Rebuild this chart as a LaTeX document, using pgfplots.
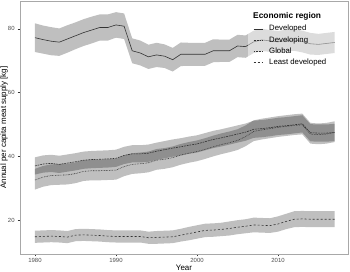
\documentclass[border=0pt]{standalone}
\usepackage{fontspec}
\setmainfont{Liberation Sans}
\usepackage{pgfplots}
\usepackage{pgfplotstable}
\pgfplotsset{compat=1.18}
\usepgfplotslibrary{fillbetween}
\definecolor{axgray}{HTML}{A8A8A8}
\definecolor{ticklab}{HTML}{4D4D4D}
\definecolor{linecol}{HTML}{333333}

% year, Developed, Developing, Global, Least developed, and ribbon bounds
\pgfplotstableread{
yr    D     Dlo   Dhi   Dg    Dglo  Dghi  G     Glo   Ghi   L     Llo   Lhi
1980  77.2  72.7  81.7  32.6  29.6  36.1  37.0  34.3  39.7  14.8  12.9  16.7
1981  76.6  72.2  81.0  33.5  30.5  37.0  37.6  34.9  40.3  14.9  13.0  16.8
1982  76.1  71.7  80.5  34.0  31.0  37.5  37.8  35.1  40.5  15.0  13.1  16.9
1983  75.8  71.5  80.1  34.1  31.1  37.6  37.5  34.8  40.2  14.9  13.0  16.8
1984  76.8  72.5  81.1  34.2  31.2  37.7  37.9  35.2  40.6  14.7  12.8  16.6
1985  77.8  73.6  82.0  34.6  31.6  38.1  38.3  35.6  41.0  15.3  13.4  17.2
1986  78.8  74.6  83.0  35.3  32.3  38.8  38.8  36.1  41.5  15.4  13.5  17.3
1987  79.6  75.4  83.8  35.5  32.5  39.0  39.0  36.3  41.7  15.3  13.4  17.2
1988  80.4  76.3  84.5  35.5  32.5  39.0  39.1  36.4  41.8  15.2  13.3  17.1
1989  80.4  76.3  84.5  35.6  32.6  39.1  39.2  36.5  41.9  15.0  13.1  16.9
1990  81.2  77.2  85.2  35.7  32.7  39.2  39.4  36.7  42.1  14.9  13.0  16.8
1991  80.8  76.8  84.8  36.8  33.8  40.3  40.3  37.6  43.0  14.9  13.0  16.8
1992  73.1  69.2  77.0  37.5  34.5  41.0  40.8  38.1  43.5  14.9  13.0  16.8
1993  72.4  68.5  76.3  37.7  34.7  41.2  40.8  38.1  43.5  14.9  13.0  16.8
1994  71.2  67.4  75.0  38.0  35.0  41.5  41.0  38.3  43.7  14.5  12.6  16.4
1995  71.8  68.0  75.6  38.8  35.8  42.3  41.6  38.9  44.3  14.6  12.6  16.6
1996  71.4  67.7  75.1  39.1  36.1  42.6  42.1  39.4  44.8  14.7  12.7  16.7
1997  70.3  66.6  74.0  39.6  36.6  43.1  42.6  39.9  45.3  14.8  12.8  16.8
1998  72.0  68.3  75.7  40.4  37.4  43.9  43.0  40.3  45.7  15.3  13.3  17.3
1999  72.0  68.4  75.6  41.0  38.0  44.5  43.5  40.8  46.2  15.8  13.7  17.9
2000  72.0  68.4  75.6  41.5  38.5  45.0  43.9  41.2  46.6  16.3  14.2  18.4
2001  72.0  68.4  75.6  42.2  39.2  45.7  44.6  41.9  47.3  16.8  14.7  18.9
2002  73.1  69.5  76.7  43.0  40.0  46.5  45.3  42.6  48.0  16.9  14.8  19.0
2003  73.1  69.6  76.6  43.7  40.7  47.2  45.8  43.1  48.5  17.1  15.0  19.2
2004  73.1  69.6  76.6  44.3  41.3  47.8  46.4  43.7  49.1  17.4  15.2  19.6
2005  74.6  71.1  78.1  45.0  42.0  48.5  47.0  44.3  49.7  17.8  15.6  20.0
2006  74.4  70.9  77.9  46.2  43.2  49.7  47.6  44.9  50.3  18.1  15.9  20.3
2007  75.9  72.4  79.4  47.8  44.8  51.3  48.5  45.8  51.2  18.5  16.2  20.8
2008  76.5  73.0  80.0  48.3  45.3  51.8  48.7  46.0  51.4  18.4  16.1  20.7
2009  76.2  72.8  79.6  48.7  45.7  52.2  49.0  46.3  51.7  18.3  16.0  20.6
2010  75.9  72.5  79.3  49.1  46.1  52.6  49.4  46.7  52.1  18.8  16.4  21.2
2011  76.3  72.9  79.7  49.4  46.4  52.9  49.6  46.9  52.3  19.6  17.2  22.0
2012  76.5  73.1  79.9  49.7  46.7  53.2  49.9  47.2  52.6  20.3  17.8  22.8
2013  76.0  72.6  79.4  49.9  46.9  53.4  50.2  47.5  52.9  20.4  17.9  22.9
2014  75.3  71.9  78.7  47.0  44.0  50.5  47.4  44.7  50.1  20.3  17.8  22.8
2015  75.1  71.8  78.4  46.8  43.8  50.3  47.3  44.6  50.0  20.3  17.8  22.8
2016  75.4  72.1  78.7  47.0  44.0  50.5  47.3  44.6  50.0  20.3  17.8  22.8
2017  75.7  72.4  79.0  47.5  44.5  51.0  47.5  44.8  50.2  20.3  17.8  22.8
}\datatab

\begin{document}
\begin{tikzpicture}
\begin{axis}[
  scale only axis,
  width=328bp, height=253bp,
  xmin=1978.15, xmax=2018.64,
  ymin=9.4, ymax=88.7,
  xtick={1980,1990,2000,2010},
  ytick={20,40,60,80},
  xticklabel style={/pgf/number format/1000 sep={}},
  /pgf/number format/assume math mode=true,
  tick label style={font=\fontsize{6}{7}\selectfont, text=ticklab},
  xticklabel style={yshift=1.5bp},
  yticklabel style={xshift=0.5bp},
  tick align=outside,
  tick pos=left,
  major tick length=2.4bp,
  every tick/.style={draw=linecol, line width=0.4bp},
  axis line style={draw=axgray, line width=0.6bp},
  xlabel={Year},
  ylabel={Annual per capita meat supply [kg]},
  label style={font=\fontsize{8}{9}\selectfont, text=black},
  xlabel style={at={(axis description cs:0.5,0)}, anchor=center, yshift=-14bp},
  ylabel style={at={(axis description cs:-0.0488,0.5)}, anchor=center},
  legend style={
    at={(rel axis cs:0.7104,0.9126)}, anchor=north west,
    draw=none, fill=none,
    font=\fontsize{7.8}{9}\selectfont,
    row sep=0bp, inner xsep=0bp, inner ysep=0bp,
    legend cell align=left,
  },
  legend image post style={line width=0.6bp},
  legend image code/.code={\draw[#1] (0bp,0bp) -- (9.4bp,0bp);},
  clip=true,
]
% ribbons
\addplot[name path=dhi, draw=none, forget plot] table[x=yr, y=Dhi]{\datatab};
\addplot[name path=dlo, draw=none, forget plot] table[x=yr, y=Dlo]{\datatab};
\addplot[fill=black, fill opacity=0.25, draw=none, forget plot] fill between[of=dhi and dlo];
\addplot[name path=dghi, draw=none, forget plot] table[x=yr, y=Dghi]{\datatab};
\addplot[name path=dglo, draw=none, forget plot] table[x=yr, y=Dglo]{\datatab};
\addplot[fill=black, fill opacity=0.25, draw=none, forget plot] fill between[of=dghi and dglo];
\addplot[name path=ghi, draw=none, forget plot] table[x=yr, y=Ghi]{\datatab};
\addplot[name path=glo, draw=none, forget plot] table[x=yr, y=Glo]{\datatab};
\addplot[fill=black, fill opacity=0.25, draw=none, forget plot] fill between[of=ghi and glo];
\addplot[name path=lhi, draw=none, forget plot] table[x=yr, y=Lhi]{\datatab};
\addplot[name path=llo, draw=none, forget plot] table[x=yr, y=Llo]{\datatab};
\addplot[fill=black, fill opacity=0.25, draw=none, forget plot] fill between[of=lhi and llo];
% lines
\addplot[linecol, line width=0.6bp, no marks] table[x=yr, y=D]{\datatab};
\addlegendentry{\hspace{4bp}Developed}
\addplot[linecol, line width=0.6bp, no marks, dash pattern=on 0.7bp off 0.9bp] table[x=yr, y=Dg]{\datatab};
\addlegendentry{\hspace{4bp}Developing}
\addplot[linecol, line width=0.6bp, no marks, dash pattern=on 1.8bp off 0.9bp] table[x=yr, y=G]{\datatab};
\addlegendentry{\hspace{4bp}Global}
\addplot[linecol, line width=0.6bp, no marks, dash pattern=on 2bp off 2bp] table[x=yr, y=L]{\datatab};
\addlegendentry{\hspace{4bp}Least developed}
% semi-transparent legend background
\fill[white, fill opacity=0.45] (rel axis cs:0.6952,0.982) rectangle (rel axis cs:1,0.739);
\node[anchor=west, font=\fontsize{8.4}{9}\selectfont\bfseries, inner sep=0pt] at (rel axis cs:0.7104,0.9387) {Economic region};
\draw[axgray, line width=0.6bp] (rel axis cs:0,1) -- (rel axis cs:1,1) -- (rel axis cs:1,0);
\coordinate (sw) at (rel axis cs:0,0);
\coordinate (ne) at (rel axis cs:1,1);
\end{axis}
\pgfresetboundingbox
\path ([shift={(-20bp,-18bp)}]sw) rectangle ([shift={(2bp,1bp)}]ne);
\end{tikzpicture}
\end{document}
